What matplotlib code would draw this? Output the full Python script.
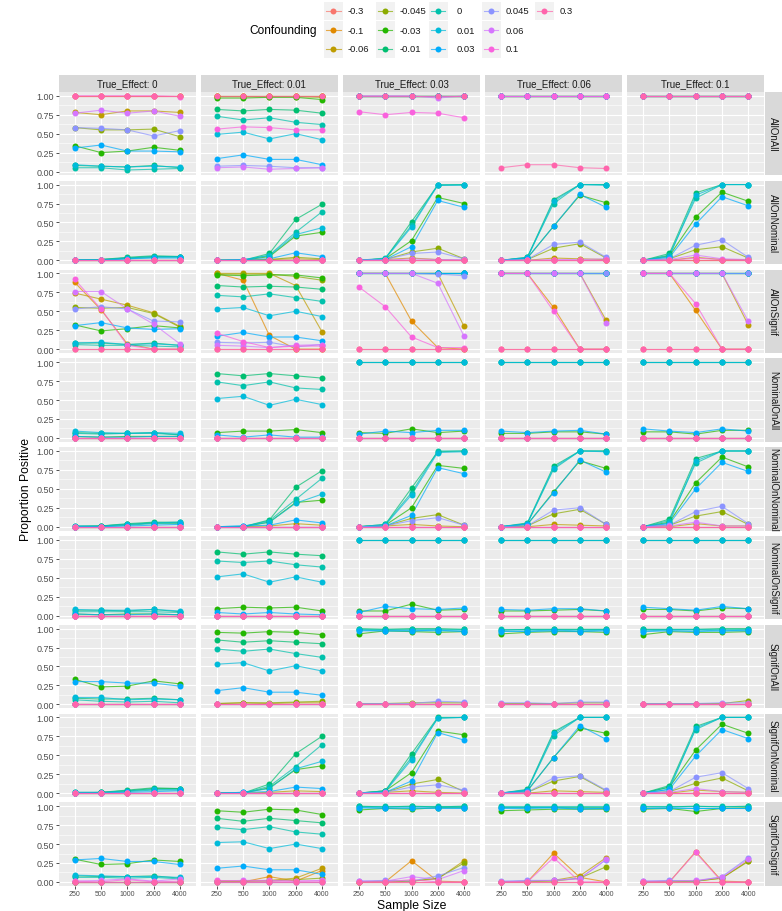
import matplotlib
matplotlib.use("Agg")
import matplotlib.pyplot as plt
from matplotlib.lines import Line2D
from matplotlib.patches import Rectangle

plt.rcParams['font.family'] = ['Liberation Sans', 'DejaVu Sans']

# ---- data -------------------------------------------------------------
sample_sizes = ["250", "500", "1000", "2000", "4000"]
true_effects = ["0", "0.01", "0.03", "0.06", "0.1"]
methods = ["AllOnAll", "AllOnNominal", "AllOnSignif",
           "NominalOnAll", "NominalOnNominal", "NominalOnSignif",
           "SignifOnAll", "SignifOnNominal", "SignifOnSignif"]
confounding = ["-0.3", "-0.1", "-0.06", "-0.045", "-0.03", "-0.01", "0",
               "0.01", "0.03", "0.045", "0.06", "0.1", "0.3"]
colors = ["#F8766D", "#E18A00", "#BE9C00", "#8CAB00", "#24B700", "#00BE70",
          "#00C1AB", "#00BBDA", "#00ACFC", "#8B93FF", "#D575FE", "#F962DD",
          "#FF65AC"]

ONE = [1, 1, 1, 1, 1]
ZERO = [0, 0, 0, 0, 0]


def panel(base, values):
    """Series not listed lie flat on `base` (0 or 1) in that panel."""
    return {c: values.get(c, base) for c in confounding}


all_on_all = [
    panel(ZERO, {"-0.3": ONE, "-0.1": ONE, "0.1": [1, 1, 1, 1, 0.99], "0.3": ONE,
                 "-0.06": [0.78, 0.75, 0.80, 0.80, 0.78], "-0.045": [0.58, 0.55, 0.55, 0.56, 0.46],
                 "-0.03": [0.34, 0.25, 0.27, 0.32, 0.28], "-0.01": [0.08, 0.07, 0.06, 0.08, 0.05],
                 "0": [0.05, 0.05, 0.02, 0.03, 0.04], "0.01": [0.09, 0.07, 0.06, 0.07, 0.06],
                 "0.03": [0.31, 0.35, 0.27, 0.27, 0.26], "0.045": [0.58, 0.57, 0.55, 0.47, 0.54],
                 "0.06": [0.77, 0.81, 0.77, 0.80, 0.73]}),
    panel(ONE, {"-0.045": [0.99, 0.99, 0.99, 0.99, 0.98], "-0.03": [0.97, 0.97, 0.98, 0.98, 0.95],
                "-0.01": [0.82, 0.80, 0.82, 0.81, 0.77], "0": [0.73, 0.68, 0.71, 0.65, 0.62],
                "0.01": [0.49, 0.52, 0.43, 0.50, 0.42], "0.03": [0.17, 0.22, 0.16, 0.16, 0.09],
                "0.045": [0.07, 0.08, 0.07, 0.05, 0.05], "0.06": [0.05, 0.06, 0.03, 0.04, 0.05],
                "0.1": [0.56, 0.59, 0.58, 0.55, 0.55]}),
    panel(ONE, {"0.1": [0.79, 0.75, 0.78, 0.77, 0.71], "0.06": [1, 1, 1, 0.97, 1]}),
    panel(ONE, {"0.3": [0.05, 0.09, 0.09, 0.05, 0.04]}),
    panel(ONE, {}),
]

all_on_nominal = [
    panel(ZERO, {"-0.03": [0, 0.01, 0.03, 0.05, 0.05], "-0.01": [0.01, 0.01, 0.04, 0.06, 0.05],
                 "0": [0, 0, 0.02, 0.04, 0.04], "0.01": [0.01, 0.01, 0.03, 0.05, 0.05],
                 "0.03": [0, 0, 0.02, 0.03, 0.03]}),
    panel(ZERO, {"-0.06": [0, 0, 0.01, 0.02, 0.01], "-0.045": [0, 0, 0.01, 0.04, 0.02],
                 "-0.03": [0, 0, 0.05, 0.32, 0.37], "-0.01": [0, 0, 0.09, 0.54, 0.74],
                 "0": [0, 0, 0.07, 0.37, 0.64], "0.01": [0, 0.01, 0.06, 0.34, 0.43],
                 "0.03": [0, 0.01, 0.02, 0.10, 0.05]}),
    panel(ZERO, {"-0.06": [0, 0.01, 0.03, 0.01, 0], "-0.045": [0, 0.01, 0.11, 0.16, 0.02],
                 "-0.03": [0, 0.02, 0.26, 0.83, 0.75], "-0.01": [0, 0.02, 0.51, 0.99, 1.0],
                 "0": [0, 0.03, 0.46, 1.0, 1.0], "0.01": [0, 0.02, 0.44, 0.99, 0.99],
                 "0.03": [0, 0.01, 0.18, 0.79, 0.70], "0.045": [0, 0.01, 0.09, 0.11, 0.02],
                 "0.06": [0, 0, 0.02, 0.01, 0.01]}),
    panel(ZERO, {"-0.06": [0, 0, 0.03, 0.02, 0.01], "-0.045": [0, 0.01, 0.16, 0.22, 0.03],
                 "-0.03": [0, 0.03, 0.45, 0.86, 0.76], "-0.01": [0, 0.04, 0.80, 1.0, 1.0],
                 "0": [0, 0.04, 0.75, 1.0, 1.0], "0.01": [0, 0.03, 0.78, 1.0, 0.99],
                 "0.03": [0, 0.03, 0.45, 0.87, 0.70], "0.045": [0, 0.01, 0.21, 0.24, 0.04],
                 "0.06": [0, 0, 0.01, 0.01, 0.02]}),
    panel(ZERO, {"-0.06": [0, 0, 0.04, 0.01, 0.01], "-0.045": [0, 0.02, 0.14, 0.18, 0.03],
                 "-0.03": [0, 0.06, 0.57, 0.90, 0.78], "-0.01": [0, 0.09, 0.89, 1.0, 1.0],
                 "0": [0, 0.07, 0.82, 1.0, 1.0], "0.01": [0, 0.05, 0.86, 1.0, 1.0],
                 "0.03": [0, 0.04, 0.48, 0.84, 0.72], "0.045": [0, 0.02, 0.20, 0.27, 0.04],
                 "0.06": [0, 0.01, 0.07, 0.02, 0.01], "0.1": [0, 0, 0.03, 0.01, 0]}),
]

all_on_signif = [
    panel(ZERO, {"-0.1": [0.88, 0.52, 0.07, 0, 0], "-0.06": [0.74, 0.66, 0.58, 0.48, 0.30],
                 "-0.045": [0.55, 0.54, 0.55, 0.47, 0.29], "-0.03": [0.32, 0.24, 0.27, 0.31, 0.28],
                 "-0.01": [0.08, 0.08, 0.06, 0.08, 0.05], "0": [0.06, 0.05, 0.05, 0.04, 0.03],
                 "0.01": [0.08, 0.09, 0.06, 0.07, 0.05], "0.03": [0.31, 0.35, 0.28, 0.26, 0.27],
                 "0.045": [0.53, 0.56, 0.53, 0.37, 0.36], "0.06": [0.76, 0.76, 0.53, 0.33, 0.07],
                 "0.1": [0.92, 0.53, 0.05, 0, 0]}),
    panel(ZERO, {"-0.1": [1.0, 0.91, 0.18, 0, 0], "-0.06": [1.0, 1.0, 1.0, 0.84, 0.23],
                 "-0.045": [0.99, 0.99, 0.99, 0.96, 0.91], "-0.03": [0.98, 0.97, 0.98, 0.98, 0.94],
                 "-0.01": [0.84, 0.82, 0.83, 0.82, 0.79], "0": [0.71, 0.69, 0.73, 0.68, 0.63],
                 "0.01": [0.53, 0.55, 0.44, 0.50, 0.43], "0.03": [0.17, 0.22, 0.16, 0.16, 0.11],
                 "0.045": [0.09, 0.08, 0.09, 0.03, 0.06], "0.06": [0.05, 0.04, 0.02, 0.05, 0.06],
                 "0.1": [0.21, 0.10, 0.02, 0.04, 0.04]}),
    panel(ONE, {"-0.3": ZERO, "0.3": ZERO, "-0.1": [1, 1, 0.37, 0.02, 0],
                "-0.06": [1, 1, 1, 1, 0.30], "0.06": [1, 1, 1, 0.87, 0.17],
                "0.1": [0.82, 0.56, 0.16, 0.02, 0.02], "0.045": [1, 1, 1, 0.99, 0.97]}),
    panel(ONE, {"-0.3": ZERO, "0.3": ZERO, "-0.1": [1, 1, 0.55, 0, 0], "0.1": [1, 1, 0.50, 0, 0],
                "-0.06": [1, 1, 1, 1, 0.38], "0.06": [1, 1, 1, 1, 0.34]}),
    panel(ONE, {"-0.3": ZERO, "0.3": ZERO, "-0.1": [1, 1, 0.51, 0, 0], "0.1": [1, 1, 0.60, 0, 0],
                "-0.06": [1, 1, 1, 1, 0.32], "0.06": [1, 1, 1, 1, 0.37]}),
]

nominal_on_all = [
    panel(ZERO, {"-0.03": [0.02, 0.01, 0.02, 0.02, 0.02], "-0.01": [0.07, 0.06, 0.06, 0.07, 0.04],
                 "0": [0.06, 0.05, 0.06, 0.06, 0.04], "0.01": [0.09, 0.07, 0.06, 0.07, 0.06],
                 "0.03": [0.02, 0.01, 0.01, 0.02, 0.02]}),
    panel(ZERO, {"-0.03": [0.07, 0.09, 0.09, 0.11, 0.07], "-0.01": [0.85, 0.82, 0.85, 0.82, 0.79],
                 "0": [0.74, 0.69, 0.74, 0.66, 0.64], "0.01": [0.52, 0.55, 0.43, 0.51, 0.44],
                 "0.03": [0.04, 0.01, 0.04, 0.01, 0.01]}),
    panel(ZERO, {"-0.03": [0.07, 0.06, 0.12, 0.07, 0.09], "-0.01": ONE, "0": ONE, "0.01": ONE,
                 "0.03": [0.05, 0.09, 0.07, 0.10, 0.10]}),
    panel(ZERO, {"-0.03": [0.06, 0.06, 0.08, 0.08, 0.05], "-0.01": ONE, "0": ONE, "0.01": ONE,
                 "0.03": [0.09, 0.07, 0.09, 0.10, 0.05]}),
    panel(ZERO, {"-0.03": [0.08, 0.08, 0.05, 0.10, 0.10], "-0.01": ONE, "0": ONE, "0.01": ONE,
                 "0.03": [0.12, 0.09, 0.07, 0.12, 0.09]}),
]

nominal_on_nominal = [
    panel(ZERO, {"-0.03": [0, 0.01, 0.03, 0.05, 0.05], "-0.01": [0.01, 0.01, 0.04, 0.06, 0.06],
                 "0": [0, 0, 0.02, 0.04, 0.04], "0.01": [0.01, 0.01, 0.03, 0.05, 0.06],
                 "0.03": [0, 0, 0.01, 0.02, 0.03]}),
    panel(ZERO, {"-0.06": [0, 0, 0.01, 0.04, 0.02], "-0.03": [0, 0, 0.06, 0.32, 0.35],
                 "-0.01": [0, 0, 0.09, 0.52, 0.74], "0": [0, 0, 0.08, 0.36, 0.64],
                 "0.01": [0, 0.01, 0.06, 0.31, 0.43], "0.03": [0, 0.01, 0.02, 0.09, 0.05]}),
    panel(ZERO, {"-0.06": [0, 0.01, 0.03, 0.01, 0], "-0.045": [0, 0.01, 0.11, 0.16, 0.02],
                 "-0.03": [0, 0.02, 0.25, 0.81, 0.77], "-0.01": [0, 0.03, 0.51, 0.99, 1.0],
                 "0": [0, 0.03, 0.45, 1.0, 1.0], "0.01": [0, 0.02, 0.42, 0.98, 0.99],
                 "0.03": [0, 0.01, 0.15, 0.78, 0.70], "0.045": [0, 0.01, 0.08, 0.12, 0.02]}),
    panel(ZERO, {"-0.06": [0, 0, 0.03, 0.02, 0.01], "-0.045": [0, 0.01, 0.17, 0.23, 0.03],
                 "-0.03": [0, 0.03, 0.46, 0.87, 0.77], "-0.01": [0, 0.05, 0.80, 1.0, 1.0],
                 "0": [0, 0.04, 0.76, 1.0, 1.0], "0.01": [0, 0.04, 0.78, 1.0, 0.99],
                 "0.03": [0, 0.03, 0.45, 0.88, 0.72], "0.045": [0, 0.01, 0.22, 0.25, 0.03]}),
    panel(ZERO, {"-0.06": [0, 0, 0.04, 0.01, 0.01], "-0.045": [0, 0.02, 0.14, 0.20, 0.03],
                 "-0.03": [0, 0.06, 0.58, 0.92, 0.79], "-0.01": [0, 0.10, 0.90, 1.0, 1.0],
                 "0": [0, 0.08, 0.84, 1.0, 1.0], "0.01": [0, 0.05, 0.87, 1.0, 1.0],
                 "0.03": [0, 0.04, 0.50, 0.85, 0.73], "0.045": [0, 0.02, 0.20, 0.27, 0.04],
                 "0.06": [0, 0.01, 0.06, 0.01, 0.01]}),
]

nominal_on_signif = [
    panel(ZERO, {"-0.03": [0.02, 0.01, 0.02, 0.02, 0.01], "-0.01": [0.07, 0.07, 0.06, 0.08, 0.05],
                 "0": [0.05, 0.05, 0.05, 0.05, 0.04], "0.01": [0.08, 0.07, 0.07, 0.08, 0.06],
                 "0.03": [0.02, 0.01, 0.01, 0.02, 0.01]}),
    panel(ZERO, {"-0.03": [0.09, 0.11, 0.10, 0.11, 0.06], "-0.01": [0.84, 0.81, 0.84, 0.81, 0.79],
                 "0": [0.72, 0.70, 0.72, 0.67, 0.64], "0.01": [0.51, 0.55, 0.44, 0.51, 0.44],
                 "0.03": [0.04, 0.02, 0.04, 0.02, 0.01]}),
    panel(ZERO, {"-0.03": [0.06, 0.06, 0.15, 0.07, 0.08], "-0.01": ONE, "0": ONE, "0.01": ONE,
                 "0.03": [0.04, 0.12, 0.09, 0.08, 0.10]}),
    panel(ZERO, {"-0.03": [0.06, 0.06, 0.07, 0.08, 0.06], "-0.01": ONE, "0": ONE, "0.01": ONE,
                 "0.03": [0.08, 0.07, 0.09, 0.09, 0.06]}),
    panel(ZERO, {"-0.03": [0.08, 0.08, 0.06, 0.10, 0.09], "-0.01": ONE, "0": ONE, "0.01": ONE,
                 "0.03": [0.11, 0.09, 0.07, 0.12, 0.09]}),
]

signif_on_all = [
    panel(ZERO, {"-0.03": [0.33, 0.23, 0.24, 0.31, 0.27], "-0.01": [0.08, 0.07, 0.07, 0.08, 0.06],
                 "0": [0.06, 0.04, 0.03, 0.04, 0.02], "0.01": [0.09, 0.09, 0.06, 0.07, 0.06],
                 "0.03": [0.30, 0.30, 0.28, 0.28, 0.24]}),
    panel(ZERO, {"-0.06": [0.01, 0.02, 0.01, 0.02, 0.02], "-0.045": [0.01, 0.02, 0.02, 0.03, 0.04],
                 "-0.03": [0.95, 0.94, 0.96, 0.95, 0.92], "-0.01": [0.85, 0.82, 0.84, 0.82, 0.80],
                 "0": [0.73, 0.70, 0.73, 0.67, 0.62], "0.01": [0.53, 0.55, 0.44, 0.51, 0.44],
                 "0.03": [0.18, 0.22, 0.16, 0.16, 0.12]}),
    panel(ZERO, {"-0.045": [0.01, 0.01, 0.02, 0.02, 0.02], "-0.03": [0.93, 0.97, 0.96, 0.95, 0.96],
                 "-0.01": [1.0, 0.99, 1.0, 1.0, 0.99], "0": ONE, "0.01": [0.98, 0.97, 0.97, 0.97, 0.97],
                 "0.03": [0.97, 0.97, 0.97, 0.98, 0.96], "0.045": [0.01, 0.01, 0.01, 0.04, 0.03]}),
    panel(ZERO, {"-0.045": [0.01, 0.01, 0.01, 0.02, 0.02], "-0.03": [0.93, 0.95, 0.96, 0.96, 0.95],
                 "-0.01": [0.98, 0.99, 0.99, 0.99, 0.99], "0": ONE, "0.01": [0.96, 0.97, 0.98, 0.97, 0.98],
                 "0.03": [0.97, 0.96, 0.97, 0.96, 0.97], "0.045": [0.02, 0.02, 0.01, 0.03, 0.03]}),
    panel(ZERO, {"-0.045": [0.01, 0.01, 0.01, 0.01, 0.05], "-0.03": [0.92, 0.96, 0.95, 0.95, 0.96],
                 "-0.01": [0.99, 0.99, 0.99, 1.0, 1.0], "0": ONE, "0.01": [0.97, 0.98, 0.98, 0.97, 0.98],
                 "0.03": [0.96, 0.97, 0.96, 0.97, 0.97], "0.045": [0.01, 0.01, 0.01, 0.02, 0.02]}),
]

signif_on_nominal = [
    panel(ZERO, {"-0.03": [0, 0.01, 0.03, 0.06, 0.06], "-0.01": [0.01, 0.01, 0.04, 0.07, 0.06],
                 "0": [0, 0, 0.02, 0.04, 0.04], "0.01": [0.01, 0.01, 0.03, 0.05, 0.05],
                 "0.03": [0, 0, 0.01, 0.02, 0.03]}),
    panel(ZERO, {"-0.06": [0, 0, 0.01, 0.03, 0.02], "-0.03": [0, 0, 0.07, 0.31, 0.36],
                 "-0.01": [0, 0, 0.12, 0.52, 0.75], "0": [0, 0, 0.09, 0.35, 0.64],
                 "0.01": [0, 0.01, 0.06, 0.32, 0.42], "0.03": [0, 0.01, 0.02, 0.08, 0.06]}),
    panel(ZERO, {"-0.06": [0, 0.01, 0.03, 0.01, 0], "-0.045": [0, 0.01, 0.12, 0.18, 0.02],
                 "-0.03": [0, 0.03, 0.27, 0.82, 0.77], "-0.01": [0, 0.03, 0.52, 1.0, 1.0],
                 "0": [0, 0.03, 0.47, 0.99, 1.0], "0.01": [0, 0.02, 0.44, 0.99, 1.0],
                 "0.03": [0, 0.01, 0.16, 0.80, 0.70], "0.045": [0, 0.01, 0.08, 0.11, 0.04]}),
    panel(ZERO, {"-0.06": [0, 0, 0.03, 0.02, 0.01], "-0.045": [0, 0.01, 0.16, 0.22, 0.03],
                 "-0.03": [0, 0.03, 0.47, 0.86, 0.79], "-0.01": [0, 0.05, 0.81, 1.0, 1.0],
                 "0": [0, 0.04, 0.76, 1.0, 1.0], "0.01": [0, 0.04, 0.79, 1.0, 1.0],
                 "0.03": [0, 0.03, 0.47, 0.89, 0.71], "0.045": [0, 0.01, 0.20, 0.23, 0.04]}),
    panel(ZERO, {"-0.06": [0, 0, 0.04, 0.02, 0.01], "-0.045": [0, 0.02, 0.13, 0.20, 0.03],
                 "-0.03": [0, 0.08, 0.57, 0.91, 0.79], "-0.01": [0, 0.10, 0.88, 1.0, 1.0],
                 "0": [0, 0.08, 0.84, 1.0, 1.0], "0.01": [0, 0.05, 0.86, 1.0, 1.0],
                 "0.03": [0, 0.05, 0.49, 0.84, 0.72], "0.045": [0, 0.02, 0.21, 0.27, 0.06],
                 "0.06": [0, 0.01, 0.06, 0.02, 0.01]}),
]

signif_on_signif = [
    panel(ZERO, {"-0.03": [0.30, 0.23, 0.24, 0.29, 0.27], "-0.01": [0.08, 0.07, 0.07, 0.08, 0.05],
                 "0": [0.06, 0.06, 0.05, 0.06, 0.04], "0.01": [0.09, 0.08, 0.07, 0.07, 0.06],
                 "0.03": [0.29, 0.31, 0.27, 0.27, 0.23], "0.06": [0.01, 0.02, 0.04, 0.01, 0.04],
                 "0.1": [0.01, 0, 0.03, 0, 0.01]}),
    panel(ZERO, {"-0.1": [0, 0, 0.07, 0.01, 0.15], "-0.06": [0.01, 0.01, 0.02, 0.05, 0.18],
                 "-0.045": [0.01, 0.01, 0.01, 0.03, 0.05], "-0.03": [0.94, 0.92, 0.96, 0.95, 0.89],
                 "-0.01": [0.84, 0.80, 0.84, 0.81, 0.78], "0": [0.72, 0.69, 0.73, 0.66, 0.63],
                 "0.01": [0.52, 0.53, 0.44, 0.50, 0.44], "0.03": [0.18, 0.21, 0.16, 0.16, 0.10],
                 "0.06": [0.01, 0.02, 0.02, 0.01, 0.02], "0.1": [0.02, 0.01, 0.01, 0.01, 0.01]}),
    panel(ZERO, {"-0.1": [0, 0, 0.28, 0.01, 0], "-0.06": [0, 0, 0.01, 0.04, 0.28],
                 "-0.045": [0, 0.01, 0.01, 0.05, 0.25], "-0.03": [0.95, 0.97, 0.96, 0.98, 0.98],
                 "-0.01": [1.0, 0.99, 1.0, 0.99, 1.0], "0": ONE, "0.01": [0.98, 0.98, 0.97, 0.98, 0.98],
                 "0.03": [0.98, 0.97, 0.98, 0.97, 0.97], "0.045": [0.01, 0.02, 0.01, 0.08, 0.19],
                 "0.06": [0.01, 0.01, 0.07, 0.03, 0.15], "0.1": [0, 0, 0.03, 0, 0]}),
    panel(ZERO, {"-0.1": [0, 0, 0.38, 0.06, 0], "-0.06": [0, 0, 0.02, 0.08, 0.32],
                 "-0.045": [0, 0.01, 0.01, 0.05, 0.20], "-0.03": [0.94, 0.95, 0.96, 0.96, 0.96],
                 "-0.01": [0.99, 0.99, 0.99, 0.99, 0.99], "0": ONE, "0.01": [0.98, 0.98, 0.98, 0.97, 0.97],
                 "0.03": [0.97, 0.97, 0.98, 0.96, 0.97], "0.045": [0.01, 0.02, 0.02, 0.05, 0.29],
                 "0.06": [0, 0.01, 0.02, 0.04, 0.30], "0.1": [0, 0, 0.32, 0, 0]}),
    panel(ZERO, {"-0.1": [0, 0, 0.40, 0.01, 0], "-0.06": [0, 0, 0.01, 0.05, 0.28],
                 "-0.045": [0, 0.01, 0.01, 0.05, 0.27], "-0.03": [0.96, 0.97, 0.93, 0.97, 0.98],
                 "-0.01": [0.99, 0.99, 1.0, 0.99, 1.0], "0": ONE, "0.01": [0.98, 0.98, 0.98, 0.98, 0.98],
                 "0.03": [0.97, 0.98, 0.97, 0.97, 0.97], "0.045": [0.01, 0.02, 0.01, 0.07, 0.32],
                 "0.06": [0.01, 0.01, 0.02, 0.06, 0.30], "0.1": [0, 0, 0.39, 0, 0]}),
]

rows = [all_on_all, all_on_nominal, all_on_signif,
        nominal_on_all, nominal_on_nominal, nominal_on_signif,
        signif_on_all, signif_on_nominal, signif_on_signif]

# ---- layout (pixels) --------------------------------------------------
W, H = 782, 912
fig = plt.figure(figsize=(W / 100, H / 100), dpi=100)


def px_axes(x, y, w, h):
    return fig.add_axes([x / W, 1 - (y + h) / H, w / W, h / H])


left0, pw, gx = 59, 136.6, 5.5
top0, ph, gy = 93, 83.3, 5.5
strip = 17

for r, method in enumerate(methods):
    for c, te in enumerate(true_effects):
        x0 = left0 + c * (pw + gx)
        y0 = top0 + r * (ph + gy)
        ax = px_axes(x0, y0, pw, ph)
        ax.set_facecolor("#EBEBEB")
        data = rows[r][c]
        for i, conf in enumerate(confounding):
            ax.plot(sample_sizes, data[conf], color=colors[i], lw=0.8,
                    alpha=0.7, zorder=2)
        for i, conf in enumerate(confounding):
            ax.plot(sample_sizes, data[conf], "o", color=colors[i], ms=4.3,
                    mec="none", zorder=3)
        ax.set_xlim(-0.6, 4.6)
        ax.set_ylim(-0.05, 1.05)
        ax.set_yticks([0, 0.25, 0.5, 0.75, 1.0])
        ax.set_yticks([0.125, 0.375, 0.625, 0.875], minor=True)
        ax.grid(which="major", color="white", lw=0.85)
        ax.grid(which="minor", axis="y", color="white", lw=0.4)
        ax.set_axisbelow(True)
        for s in ax.spines.values():
            s.set_visible(False)
        ax.tick_params(which="minor", length=0)
        ax.tick_params(which="major", length=2.2, width=0.6, color="#333333",
                       labelcolor="#4D4D4D", pad=1.2)
        ax.tick_params(axis="y", labelsize=6.5)
        ax.tick_params(axis="x", labelsize=5.0)
        if c == 0:
            ax.set_yticklabels(["0.00", "0.25", "0.50", "0.75", "1.00"])
        else:
            ax.tick_params(axis="y", left=False, labelleft=False)
        if r != len(methods) - 1:
            ax.tick_params(axis="x", bottom=False, labelbottom=False)

        if r == 0:
            sa = px_axes(x0, top0 - strip, pw, strip)
            sa.set_facecolor("#D9D9D9")
            sa.set_xticks([])
            sa.set_yticks([])
            for s in sa.spines.values():
                s.set_visible(False)
            sa.text(0.5, 0.5, "True_Effect: " + te, ha="center", va="center",
                    fontsize=7, color="#1A1A1A", transform=sa.transAxes)
        if c == len(true_effects) - 1:
            sa = px_axes(x0 + pw + 0.5, y0, strip, ph)
            sa.set_facecolor("#D9D9D9")
            sa.set_xticks([])
            sa.set_yticks([])
            for s in sa.spines.values():
                s.set_visible(False)
            sa.text(0.5, 0.5, method, ha="center", va="center", rotation=270,
                    fontsize=7, color="#1A1A1A", transform=sa.transAxes)

# axis titles
fig.text(412 / W, 1 - 906 / H, "Sample Size", ha="center", va="center",
         fontsize=8.8)
fig.text(26 / W, 1 - 490 / H, "Proportion Positive", ha="center",
         va="center", rotation=90, fontsize=8.8)

# ---- legend (drawn by hand to mimic the ggplot layout) ----------------
fig.text(317 / W, 1 - 31 / H, "Confounding", ha="right", va="center",
         fontsize=8.6)
key_cx = [333, 385, 438, 491, 544]
label_x = [348, 400, 457, 506, 560]
row_cy = [12, 31, 49.5]
for k, conf in enumerate(confounding):
    col, row = divmod(k, 3)
    cx, cy = key_cx[col], row_cy[row]
    fig.add_artist(Rectangle(((cx - 9.5) / W, 1 - (cy + 9.2) / H), 19 / W,
                             18.4 / H, transform=fig.transFigure,
                             facecolor="#F2F2F2", edgecolor="none"))
    fig.add_artist(Line2D([(cx - 7.5) / W, (cx + 7.5) / W],
                          [1 - cy / H, 1 - cy / H], transform=fig.transFigure,
                          color=colors[k], lw=0.8, alpha=0.7))
    fig.add_artist(Line2D([cx / W], [1 - cy / H], transform=fig.transFigure,
                          marker="o", ms=4.3, mec="none", color=colors[k]))
    fig.text(label_x[col] / W, 1 - cy / H, conf, ha="left", va="center",
             fontsize=6.8, color="#1A1A1A")

fig.savefig("out.png", dpi=100)
